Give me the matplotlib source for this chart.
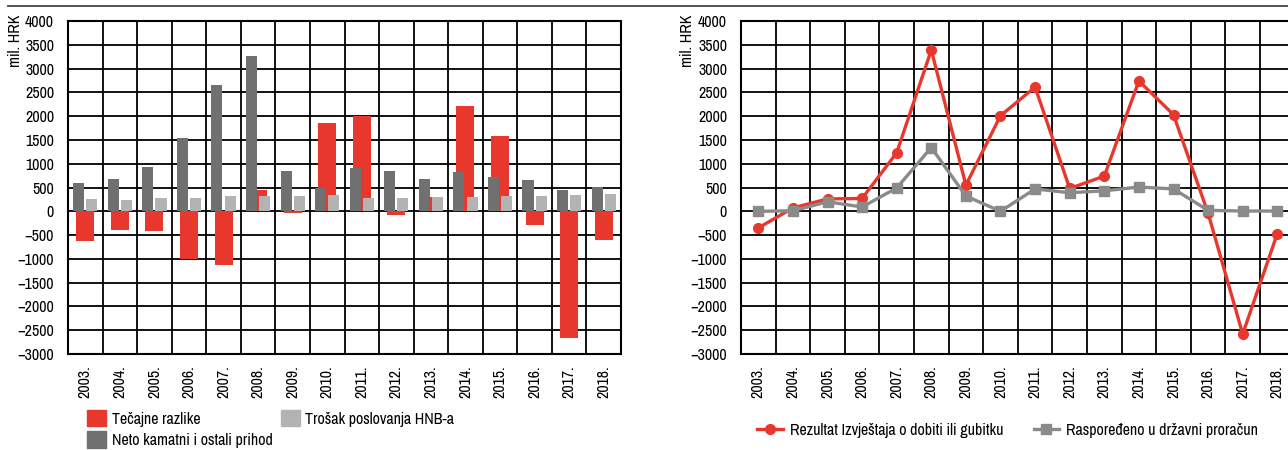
import numpy as np
import matplotlib.pyplot as plt
from matplotlib.lines import Line2D
from matplotlib.patches import Patch

plt.rcParams['font.family'] = ['Liberation Sans Narrow', 'Archivo Narrow', 'DejaVu Sans']
plt.rcParams['font.size'] = 11

years = ['2003.', '2004.', '2005.', '2006.', '2007.', '2008.', '2009.', '2010.',
         '2011.', '2012.', '2013.', '2014.', '2015.', '2016.', '2017.', '2018.']

# left panel (mil. HRK)
tecajne = [-620, -390, -410, -1000, -1130, 440, -30, 1860,
           2000, -70, 310, 2220, 1590, -280, -2660, -600]
neto_kamatni = [600, 680, 930, 1540, 2660, 3270, 850, 490,
                910, 850, 680, 830, 720, 660, 450, 510]
trosak = [255, 235, 275, 275, 320, 320, 320, 340,
          275, 275, 295, 300, 320, 320, 340, 360]

# right panel (mil. HRK)
rezultat = [-350, 70, 260, 270, 1230, 3390, 550, 2010,
            2610, 480, 740, 2740, 2030, -40, -2580, -470]
rasporedeno = [0, 10, 200, 90, 490, 1340, 320, 0,
               470, 390, 430, 510, 470, 20, 5, 5]

RED = '#e8382d'
DARK = '#707070'
LIGHT = '#b3b3b3'
LINEGRAY = '#8a8a8a'

W, H = 1288, 450
fig = plt.figure(figsize=(W / 100, H / 100), dpi=100)

# top rule
fig.add_artist(Line2D([8 / W, 1.0], [1 - 6 / H, 1 - 6 / H], color='#444444', lw=1.3))

x = np.arange(len(years))


def style_axis(ax):
    ax.set_xlim(-0.5, len(years) - 0.5)
    ax.set_ylim(-3000, 4000)
    ax.set_yticks(np.arange(-3000, 4001, 500))
    ax.set_xticks(x)
    ax.set_xticklabels(years, rotation=90)
    ax.set_xticks(np.arange(-0.5, len(years)), minor=True)
    ax.tick_params(axis='both', which='both', length=0, labelsize=11.5)
    ax.tick_params(axis='y', pad=10)
    ax.tick_params(axis='x', pad=8)
    ax.grid(True, which='minor', axis='x', color='black', lw=1.3)
    ax.grid(True, which='major', axis='y', color='black', lw=1.3)
    ax.set_axisbelow(True)
    for s in ax.spines.values():
        s.set_color('black')
        s.set_linewidth(1.5)


# ---- left: bars
ax1 = fig.add_axes([68 / W, (H - 354) / H, 553 / W, 333 / H])
ax1.bar(x, tecajne, width=0.52, color=RED, zorder=2)
ax1.bar(x - 0.19, neto_kamatni, width=0.32, color=DARK, zorder=3)
ax1.bar(x + 0.19, trosak, width=0.32, color=LIGHT, zorder=3)
style_axis(ax1)
fig.text(16 / W, 1 - 41 / H, 'mil. HRK', rotation=90, ha='center', va='center', fontsize=11.5)

handles1 = [Patch(color=RED, label='Tečajne razlike'),
            Patch(color=DARK, label='Neto kamatni i ostali prihod'),
            Patch(color=LIGHT, label='Trošak poslovanja HNB-a')]
fig.legend(handles=handles1, loc='upper left', bbox_to_anchor=(87 / W, 1 - 410 / H),
           ncol=2, frameon=False, fontsize=11.5, handlelength=1.2, handleheight=1.2,
           handletextpad=0.35, columnspacing=0.5, labelspacing=0.3,
           borderaxespad=0, borderpad=0)

# ---- right: lines
ax2 = fig.add_axes([741 / W, (H - 354) / H, 553.6 / W, 333 / H])
ax2.plot(x, rasporedeno, color=LINEGRAY, lw=2.4, marker='s', ms=7, zorder=4)
ax2.plot(x, rezultat, color=RED, lw=2.4, marker='o', ms=7, zorder=3)
style_axis(ax2)
fig.text(688 / W, 1 - 41 / H, 'mil. HRK', rotation=90, ha='center', va='center', fontsize=11.5)

handles2 = [Line2D([], [], color=RED, lw=2.4, marker='o', ms=7,
                   label='Rezultat Izvještaja o dobiti ili gubitku'),
            Line2D([], [], color=LINEGRAY, lw=2.4, marker='s', ms=7,
                   label='Raspoređeno u državni proračun')]
fig.legend(handles=handles2, loc='center left', bbox_to_anchor=(757 / W, 1 - 430 / H),
           ncol=2, frameon=False, fontsize=11.5, handlelength=1.6, handletextpad=0.45,
           columnspacing=1.9, borderaxespad=0, borderpad=0)

fig.savefig('out.png', dpi=100)
